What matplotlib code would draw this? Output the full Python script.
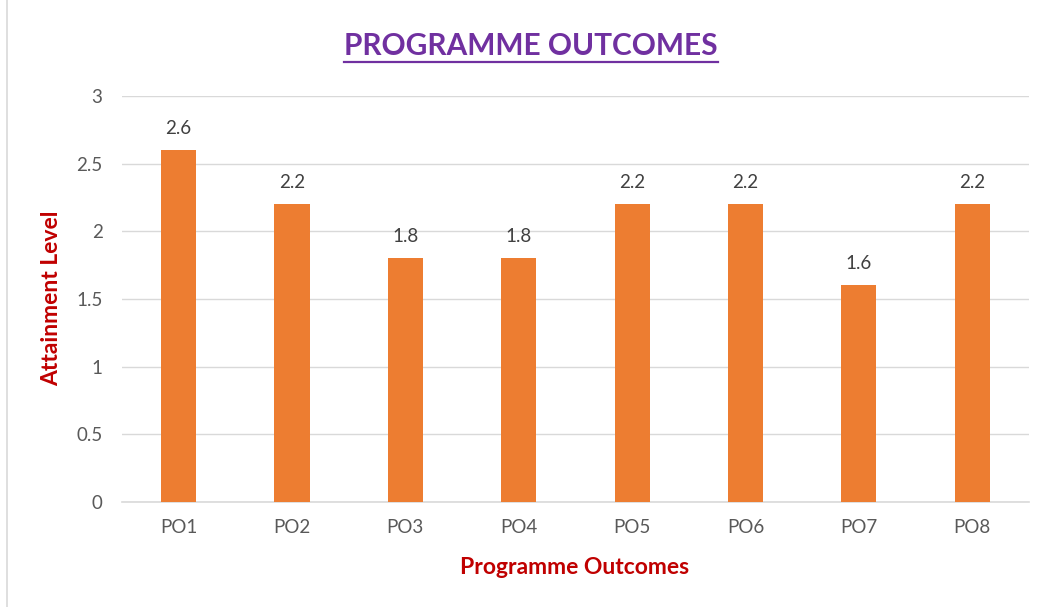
import matplotlib.pyplot as plt
from matplotlib.lines import Line2D

plt.rcParams['font.family'] = ['Lato', 'DejaVu Sans']

outcomes = ['PO1', 'PO2', 'PO3', 'PO4', 'PO5', 'PO6', 'PO7', 'PO8']
attainment = [2.6, 2.2, 1.8, 1.8, 2.2, 2.2, 1.6, 2.2]
yticks = [0, 0.5, 1, 1.5, 2, 2.5, 3]

fig = plt.figure(figsize=(10.46, 6.07), dpi=100)
ax = fig.add_axes([0.1166, 0.173, 0.867, 0.669])

x = range(len(outcomes))
bars = ax.bar(x, attainment, width=0.31, color='#ED7D31', zorder=3)
for xi, v in zip(x, attainment):
    ax.text(xi, v + 0.1, f'{v:g}', ha='center', va='bottom', fontsize=13.5, color='#404040')

ax.set_xlim(-0.5, len(outcomes) - 0.5)
ax.set_ylim(0, 3)
ax.set_yticks(yticks)
ax.set_yticklabels([f'{t:g}' for t in yticks])
ax.set_xticks(list(x))
ax.set_xticklabels(outcomes)
ax.tick_params(axis='both', length=0, labelsize=13.5, labelcolor='#595959')
ax.tick_params(axis='y', pad=14)
ax.tick_params(axis='x', pad=12)
ax.grid(axis='y', color='#D9D9D9', linewidth=1, zorder=0)
for s in ['top', 'right', 'left']:
    ax.spines[s].set_visible(False)
ax.spines['bottom'].set_color('#D9D9D9')
ax.spines['bottom'].set_linewidth(1.2)

fig.text(52 / 1046, 1 - 298 / 607, 'Attainment Level', rotation=90, ha='center', va='center',
         fontsize=16.5, fontweight='bold', color='#C00000')
fig.text(575 / 1046, 1 - 567 / 607, 'Programme Outcomes', ha='center', va='center',
         fontsize=16.5, fontweight='bold', color='#C00000')

title = fig.text(531 / 1046, 1 - 46 / 607, 'PROGRAMME OUTCOMES', ha='center', va='center',
                 fontsize=21.5, fontweight='bold', color='#7030A0')
fig.canvas.draw()
bb = title.get_window_extent().transformed(fig.transFigure.inverted())
uy = bb.y0 - 0.003
fig.add_artist(Line2D([bb.x0, bb.x1], [uy, uy], color='#7030A0', linewidth=1.6))

# frame line at left edge
fig.add_artist(Line2D([7 / 1046, 7 / 1046], [0, 1], color='#D9D9D9', linewidth=1.2))

fig.savefig('out.png', dpi=100)
